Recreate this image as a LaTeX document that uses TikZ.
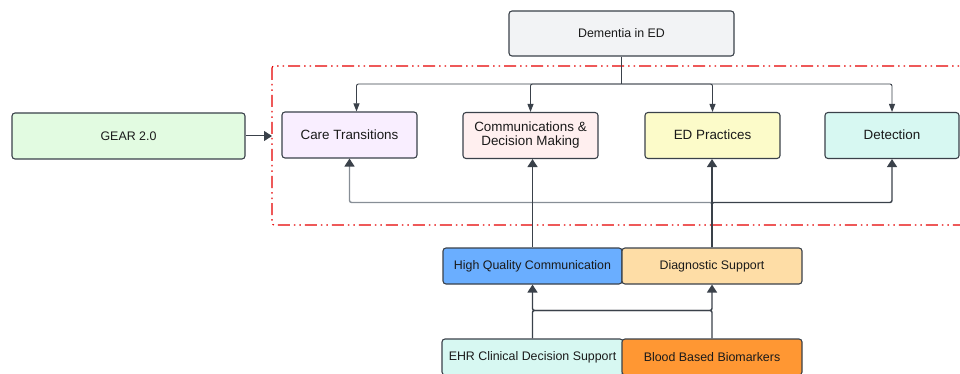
\documentclass[tikz,border=0pt]{standalone}
\usepackage{fontspec}
\setmainfont{Liberation Sans}
\usetikzlibrary{arrows.meta}
\definecolor{edge}{HTML}{3A414A}
\definecolor{ink}{HTML}{1A1A1A}
\definecolor{bus}{HTML}{878E96}
\definecolor{frame}{HTML}{E50000}
\begin{document}
\begin{tikzpicture}[x=1pt,y=-1pt]
    \tikzstyle{box}=[draw=edge,line width=1.1pt,rounded corners=3pt,inner sep=0pt,text=ink,font=\fontsize{12.4}{14}\selectfont]
    \tikzstyle{mid}=[box,minimum width=135pt,minimum height=46pt,align=center,font=\fontsize{13.4}{14}\selectfont]
    \tikzstyle{low}=[box,minimum width=180pt,minimum height=36pt]
    \tikzstyle{link}=[draw=edge,line width=0.9pt,rounded corners=2pt,-{Triangle[width=6pt,length=8pt]}]
    \tikzstyle{feed}=[draw=edge,line width=1.4pt,rounded corners=2pt,-{Triangle[width=10pt,length=8pt,color=edge]}]
    \clip(0,0)rectangle(960,374);
    % group frame
    \draw[frame,line width=1.1pt,rounded corners=2pt,dash pattern=on 12pt off 4pt on 1.5pt off 4pt on 1.5pt off 4pt](272,66)rectangle(980,225);
    \draw node[box,fill={rgb,255:red,242;green,243;blue,245},minimum width=225pt,minimum height=45pt](dem)at(621.5,33.5){Dementia in ED}
          node[box,fill={rgb,255:red,226;green,251;blue,225},minimum width=233pt,minimum height=46pt](gear)at(128.5,136){GEAR 2.0}
          node[mid,fill={rgb,255:red,249;green,238;blue,255}](care)at(349.5,135){\raisebox{1.5pt}{Care Transitions}}
          node[mid,fill={rgb,255:red,255;green,239;blue,239}](comm)at(530.5,135.5){Communications \&\\Decision Making}
          node[mid,fill={rgb,255:red,252;green,251;blue,201}](edp)at(712.5,135.5){\raisebox{1.5pt}{ED Practices}}
          node[mid,fill={rgb,255:red,215;green,248;blue,242},minimum width=134pt](det)at(892,135.5){\raisebox{1.5pt}{Detection}}
          node[low,fill={rgb,255:red,106;green,174;blue,255},minimum width=179pt](hqc)at(532.5,266){High Quality Communication}
          node[low,fill={rgb,255:red,254;green,221;blue,166}](diag)at(712,266){Diagnostic Support}
          node[low,fill={rgb,255:red,215;green,248;blue,242},minimum width=181pt](ehr)at(532.5,357){EHR Clinical Decision Support}
          node[low,fill={rgb,255:red,255;green,151;blue,51}](blood)at(712,357){Blood Based Biomarkers};
    \coordinate(fork)at(621.5,84);
    \coordinate(frm)at(272,136);
    \draw[feed,line width=1pt](gear)--(frm);
    % fan out from the top
    \draw[link,-](dem)--(fork);
    \draw[link](fork)-|([xshift=7pt]care.north);
    \draw[link](fork)-|(comm.north);
    \draw[link](fork)-|(edp.north);
    \draw[link](fork)-|(det.north);
    % supports feeding the domains
    \draw[feed,draw=bus](diag.north)--++(0,-45)-|(care.south);
    \draw[feed](diag.north)--++(0,-45)-|(det.south);
    \draw[feed](hqc.north)--(hqc.north|-comm.south);
    \draw[feed](diag.north)--(diag.north|-edp.south);
    \draw[feed](ehr.north)--++(0,-28)-|(diag.south);
    \draw[feed](blood.north)--++(0,-28)-|(hqc.south);
\end{tikzpicture}
\end{document}
